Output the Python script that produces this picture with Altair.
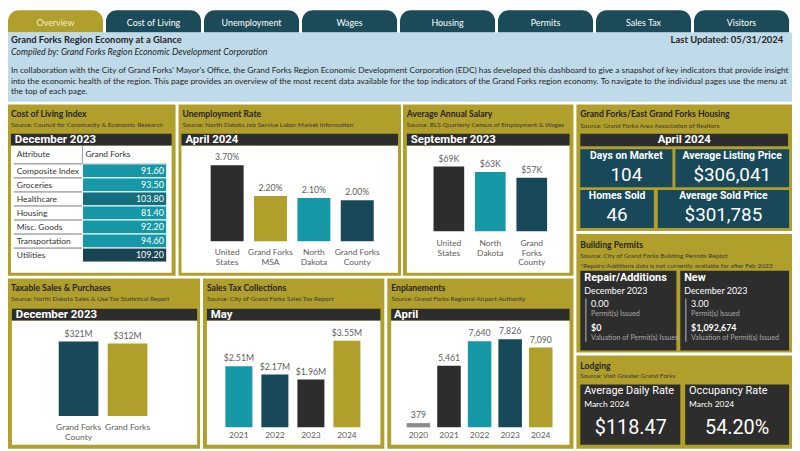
import textwrap
import altair as alt
import pandas as pd

# ---------------- data ----------------
tabs = ["Overview", "Cost of Living", "Unemployment", "Wages", "Housing", "Permits", "Sales Tax", "Visitors"]
page_title = "Grand Forks Region Economy at a Glance"
page_subtitle = "Compiled by: Grand Forks Region Economic Development Corporation"
last_updated = "Last Updated: 05/31/2024"
intro_lines = [
    "In collaboration with the City of Grand Forks' Mayor's Office, the Grand Forks Region Economic Development Corporation (EDC) has developed this dashboard to give a snapshot of key indicators that provide insight",
    "into the economic health of the region. This page provides an overview of the most recent data available for the top indicators of the Grand Forks region economy. To navigate to the individual pages use the menu at",
    "the top of each page.",
]

col_period = "December 2023"
col_attributes = ["Composite Index", "Groceries", "Healthcare", "Housing", "Misc. Goods", "Transportation", "Utilities"]
col_values = [91.60, 93.50, 103.80, 81.40, 92.20, 94.60, 109.20]

unemp_period = "April 2024"
unemp_areas = ["United States", "Grand Forks MSA", "North Dakota", "Grand Forks County"]
unemp_rates = [3.70, 2.20, 2.10, 2.00]

salary_period = "September 2023"
salary_areas = ["United States", "North Dakota", "Grand Forks County"]
salary_k = [69, 63, 57]

taxable_period = "December 2023"
taxable_areas = ["Grand Forks County", "Grand Forks"]
taxable_m = [321, 312]

salestax_period = "May"
salestax_years = ["2021", "2022", "2023", "2024"]
salestax_m = [2.51, 2.17, 1.96, 3.55]

enpl_period = "April"
enpl_years = ["2020", "2021", "2022", "2023", "2024"]
enpl_counts = [379, 5461, 7640, 7826, 7090]

housing_period = "April 2024"
housing_metrics = ["Days on Market", "Average Listing Price", "Homes Sold", "Average Sold Price"]
housing_values = [104, 306041, 46, 301785]

permit_types = ["Repair/Additions", "New"]
permit_period = "December 2023"
permit_counts = [0.00, 3.00]
permit_valuations = [0, 1092674]

lodging_metrics = ["Average Daily Rate", "Occupancy Rate"]
lodging_period = "March 2024"
lodging_rate = 118.47
lodging_occupancy = 54.20

# ---------------- style ----------------
GOLD = "#b09f2b"
CHAR = "#2d2d2d"
TEAL = "#1798a7"
DTEAL = "#18495a"
MTEAL = "#136f7d"
DDTEAL = "#1b4452"
TAB = "#1b4a58"
BLUE = "#bfdbea"
GRAY = "#8c8c8c"
TXT = "#252423"
LBL = "#605e5c"
BODY = "Lato"
NARROW = "Roboto"

W, H = 792, 443
SX, SY = W / 800, H / 451


def X(v):
    return round(v * SX, 2)


def Y(v):
    return round(v * SY, 2)


def rect_layer(boxes, color, **kw):
    df = pd.DataFrame([{"x": X(a), "y": Y(b), "x2": X(c), "y2": Y(d)} for a, b, c, d in boxes])
    return alt.Chart(df).mark_rect(color=color, **kw).encode(
        x=alt.X("x:Q", scale=None, axis=None), x2="x2:Q",
        y=alt.Y("y:Q", scale=None, axis=None), y2="y2:Q")


def text_layer(items, size, color, weight="normal", align="left", font=BODY, **kw):
    df = pd.DataFrame([{"x": X(a), "y": Y(b), "t": t} for a, b, t in items])
    return alt.Chart(df).mark_text(fontSize=size, color=color, fontWeight=weight, align=align,
                                   font=font, baseline="middle", **kw).encode(
        x=alt.X("x:Q", scale=None, axis=None), y=alt.Y("y:Q", scale=None, axis=None), text="t:N")


def bar_layers(cats, vals, labels, colors, x0, x1, pad, ybot, ytop, cat_y, wrap):
    df = pd.DataFrame({"cat": cats, "val": vals, "label": labels,
                       "name": ["\n".join(textwrap.wrap(c, wrap)) for c in cats]})
    xs = alt.Scale(domain=cats, range=[X(x0), X(x1)], paddingInner=pad, paddingOuter=pad / 2)
    ys = alt.Scale(domain=[0, max(vals)], range=[Y(ybot), Y(ytop)], nice=False, zero=True)
    base = alt.Chart(df).encode(x=alt.X("cat:N", scale=xs, axis=None))
    b = base.mark_bar().encode(
        y=alt.Y("val:Q", scale=ys, axis=None),
        color=alt.Color("cat:N", scale=alt.Scale(domain=cats, range=colors), legend=None))
    t = base.mark_text(fontSize=8.8, font=BODY, color=LBL, baseline="middle", dy=-8).encode(
        y=alt.Y("val:Q", scale=ys, axis=None), text="label:N")
    n = base.mark_text(fontSize=8.5, font=BODY, color=LBL, baseline="top", lineBreak="\n",
                       lineHeight=10).encode(y=alt.value(Y(cat_y)), text="name:N")
    return [b, t, n]


layers = []

# tabs
tab_boxes = [(100 * i, 0, 100 * i + 97, 23) for i in range(len(tabs))]
layers.append(rect_layer(tab_boxes[:1], GOLD, cornerRadiusTopLeft=11, cornerRadiusTopRight=11))
layers.append(rect_layer(tab_boxes[1:], TAB, cornerRadiusTopLeft=11, cornerRadiusTopRight=11))
tab_texts = [(100 * i + 48.5, 13, t) for i, t in enumerate(tabs)]
layers.append(text_layer(tab_texts[:1], 9, "#f4eecb", align="center"))
layers.append(text_layer(tab_texts[1:], 9, "white", align="center"))

# header
layers.append(rect_layer([(0, 23, 800, 94)], BLUE))
layers.append(text_layer([(3, 31, page_title)], 9.5, TXT, weight="bold"))
layers.append(text_layer([(791, 31, last_updated)], 9.5, TXT, weight="bold", align="right"))
layers.append(text_layer([(3, 42.5, page_subtitle)], 9, TXT, fontStyle="italic"))
layers.append(text_layer([(3, 62 + 10.5 * i, s) for i, s in enumerate(intro_lines)], 8.4, TXT))

# panels
panels = [(0, 97, 171, 273), (174, 97, 401, 273), (403, 97, 577, 273),
          (580, 97, 800, 227), (580, 230, 800, 352), (580, 355, 800, 451),
          (0, 276, 196, 451), (199, 276, 384, 451), (387, 276, 577, 451)]
layers.append(rect_layer(panels, GOLD))
whites = [(3, 139, 167, 270), (177, 139, 398, 270), (407, 139, 573, 270),
          (4, 319, 193, 447), (203, 319, 380, 447), (391, 319, 573, 447)]
layers.append(rect_layer(whites, "white"))
darkbars = [(3, 127, 167, 139), (177, 127, 398, 139), (407, 127, 573, 139),
            (4, 307, 193, 319), (203, 307, 380, 319), (391, 307, 573, 319), (584, 127, 796, 140)]
layers.append(rect_layer(darkbars, CHAR))
hcards = [(584, 143, 678, 182), (681, 143, 797, 182), (584, 185, 659, 224), (663, 185, 797, 224)]
layers.append(rect_layer(hcards, DTEAL))
dcards = [(584, 268, 682, 350), (686, 268, 797, 350), (584, 385, 686, 447), (691, 385, 797, 447)]
layers.append(rect_layer(dcards, CHAR))

# panel titles
titles = [(3, 107, "Cost of Living Index"), (178, 107, "Unemployment Rate"), (407, 107, "Average Annual Salary"),
          (584, 107, "Grand Forks/East Grand Forks Housing"), (584, 241, "Building Permits"),
          (584, 366, "Lodging"), (3, 285.5, "Taxable Sales & Purchases"),
          (203, 285.5, "Sales Tax Collections"), (391, 285.5, "Enplanements")]
layers.append(text_layer(titles, 8.7, TXT, weight="bold"))
sources = [(3, 118.5, "Source: Council for Community & Economic Research"),
           (178, 118.5, "Source: North Dakota Job Service Labor Market Information"),
           (407, 118.5, "Source: BLS Quarterly Census of Employment & Wages"),
           (584, 119, "Source: Grand Forks Area Association of Realtors"),
           (584, 252.5, "Source: City of Grand Forks Building Permits Report"),
           (584, 263.5, "*Repairs/Additions data is not currently available for after Feb 2023"),
           (584, 376, "Source: Visit Greater Grand Forks"),
           (3, 297, "Source: North Dakota Sales & Use Tax Statistical Report"),
           (203, 297, "Source: City of Grand Forks Sales Tax Report"),
           (391, 297, "Source: Grand Forks Regional Airport Authority")]
layers.append(text_layer(sources, 6.6, "#3a3a3a"))

# dark header bar captions
periods = [(7, 133.5, col_period), (181, 133.5, unemp_period), (411, 133.5, salary_period),
           (8, 313.5, taxable_period), (207, 313.5, salestax_period), (394, 313.5, enpl_period)]
layers.append(text_layer(periods, 11.5, "white", weight="bold", font=NARROW))
layers.append(text_layer([(690, 134, housing_period)], 11.5, "white", weight="bold", font=NARROW, align="center"))

# ---- cost of living table ----
col_df = pd.DataFrame({"attr": col_attributes, "val": col_values,
                       "label": [f"{v:.2f}" for v in col_values]})
rows = alt.Scale(domain=col_attributes, range=[Y(158), Y(259)], paddingInner=0, paddingOuter=0)
col_base = alt.Chart(col_df)
layers.append(col_base.mark_rule(color="#555555", strokeWidth=0.8).encode(
    y=alt.Y("attr:N", scale=rows, axis=None, bandPosition=0),
    x=alt.value(X(6)), x2=alt.value(X(162))))
layers.append(col_base.mark_rect(stroke="white", strokeWidth=1).encode(
    y=alt.Y("attr:N", scale=rows, axis=None),
    x=alt.value(X(76)), x2=alt.value(X(162)),
    color=alt.Color("val:Q", scale=alt.Scale(type="threshold", domain=[100, 105],
                                             range=[TEAL, MTEAL, DDTEAL]), legend=None)))
layers.append(col_base.mark_text(fontSize=8.5, font=BODY, color="#333333", align="left", baseline="middle").encode(
    y=alt.Y("attr:N", scale=rows, axis=None, bandPosition=0.5), x=alt.value(X(9)), text="attr:N"))
layers.append(col_base.mark_text(fontSize=9, font=BODY, color="white", align="right", baseline="middle").encode(
    y=alt.Y("attr:N", scale=rows, axis=None, bandPosition=0.5), x=alt.value(X(159)), text="label:N"))
layers.append(rect_layer([(75.6, 139, 76.4, 157.5)], "#888888"))
layers.append(text_layer([(9, 148, "Attribute"), (79, 148, "Grand Forks")], 8.5, "#333333"))

# ---- bar charts ----
layers += bar_layers(unemp_areas, unemp_rates, [f"{v:.2f}%" for v in unemp_rates],
                     [CHAR, GOLD, TEAL, DTEAL], 201.5, 378.5, 0.24, 237.7, 159.3, 245, 11)
layers += bar_layers(salary_areas, salary_k, [f"${v}K" for v in salary_k],
                     [CHAR, TEAL, DTEAL], 428.7, 555.6, 0.26, 227.3, 160.7, 235, 8)
layers += bar_layers(taxable_areas, taxable_m, [f"${v}M" for v in taxable_m],
                     [DTEAL, GOLD], 47, 147, 0.19, 417.3, 340.7, 425, 11)
layers += bar_layers(salestax_years, salestax_m, [f"${v:.2f}M" for v in salestax_m],
                     [TEAL, DTEAL, CHAR, GOLD], 217.2, 364.2, 0.25, 429, 340, 432.5, 11)
layers += bar_layers(enpl_years, enpl_counts, [f"{v:,}" for v in enpl_counts],
                     [GRAY, CHAR, TEAL, DTEAL, GOLD], 403.2, 559.2, 0.23, 429, 338.3, 432.5, 11)

# ---- housing KPI cards ----
hfmt = [f"{housing_values[0]}", f"${housing_values[1]:,}", f"{housing_values[2]}", f"${housing_values[3]:,}"]
hcenters = [(631, 149.5, 169.5), (739, 149.5, 169.5), (621.5, 191.5, 211), (730, 191.5, 211)]
layers.append(text_layer([(cx, ly, m) for (cx, ly, _), m in zip(hcenters, housing_metrics)],
                         10.5, "white", weight="bold", font=NARROW, align="center"))
layers.append(text_layer([(cx, vy, v) for (cx, _, vy), v in zip(hcenters, hfmt)],
                         19, "white", font=NARROW, align="center"))

# ---- building permits cards ----
px0 = [588, 690]
layers.append(text_layer([(x, 275.5, t) for x, t in zip(px0, permit_types)], 11, "white", weight="bold", font=NARROW))
layers.append(text_layer([(x, 289, permit_period) for x in px0], 9, "white"))
layers.append(rect_layer([(x + 1, 296.5, x + 2.3, 341) for x in px0], "#9a9a9a"))
layers.append(text_layer([(x + 7, 302, f"{c:.2f}") for x, c in zip(px0, permit_counts)], 9, "white"))
layers.append(text_layer([(x + 7, 327, f"${v:,}") for x, v in zip(px0, permit_valuations)], 9, "white", weight="bold"))
layers.append(text_layer([(x + 7, 312, "Permit(s) Issued") for x in px0] +
                         [(x + 7, 337, "Valuation of Permit(s) Issued") for x in px0], 7.2, "#a8a8a8"))

# ---- lodging cards ----
lx0 = [588, 695]
layers.append(text_layer([(x, 392, t) for x, t in zip(lx0, lodging_metrics)], 11, "white", font=NARROW))
layers.append(text_layer([(x, 404.5, lodging_period) for x in lx0], 8.5, "white"))
layers.append(text_layer([(635.5, 430, f"${lodging_rate:.2f}"), (744, 430, f"{lodging_occupancy:.2f}%")],
                         20, "white", font=NARROW, align="center"))

chart = alt.layer(*layers).resolve_scale(
    x="independent", y="independent", color="independent"
).properties(
    width=W, height=H, padding=0, autosize=alt.AutoSizeParams(type="none"), background="white"
).configure_view(stroke=None)

chart.save("out.html", embed_options={"renderer": "svg", "actions": False})
